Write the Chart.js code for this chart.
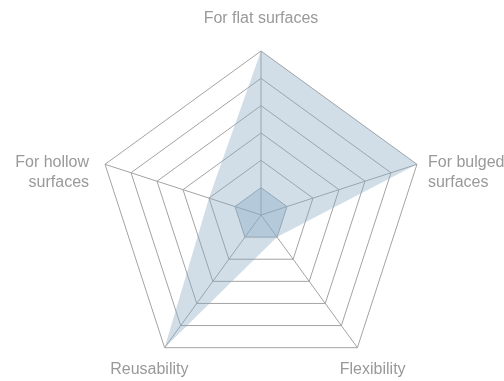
<!DOCTYPE html>
<html>
<head>
<meta charset="utf-8">
<script src="https://cdn.jsdelivr.net/npm/chart.js@4"></script>
<style>
    html, body { margin: 0; padding: 0; background: #fff; }
    #wrap { width: 504px; height: 381px; }
</style>
</head>
<body>
<div id="wrap"><canvas id="radarChart"></canvas></div>
<script>
const categories = [
    'For flat surfaces',
    ['For bulged', 'surfaces'],
    'Flexibility',
    'Reusability',
    ['For hollow', 'surfaces']
];
const outerValues = [6, 6, 1, 6, 2];
const innerValues = [1, 1, 1, 1, 1];
const scaleMin = 0;
const scaleMax = 6;

const FILL = 'rgba(134, 168, 195, 0.38)';
const LABEL_FONT = '16px "Liberation Sans", Arial, sans-serif';

// point labels drawn by hand so each one can sit where the original puts it
const outerLabels = {
    id: 'outerLabels',
    afterDraw(chart) {
        const scale = chart.scales.r;
        const c = chart.ctx;
        const R = scale.drawingArea;
        c.save();
        c.font = LABEL_FONT;
        c.fillStyle = '#999999';
        c.textBaseline = 'middle';
        chart.data.labels.forEach((label, i) => {
            const lines = Array.isArray(label) ? label : [label];
            const p = scale.getPointPosition(i, R);
            const dx = p.x - scale.xCenter;
            const dy = p.y - scale.yCenter;
            let x, y;
            if (dy < -R * 0.9) {
                c.textAlign = 'center';
                x = p.x;
                y = p.y - 32;
            } else if (dy < 0) {
                c.textAlign = dx > 0 ? 'left' : 'right';
                x = p.x + (dx > 0 ? 11 : -16);
                y = p.y - 2;
            } else {
                c.textAlign = 'center';
                x = p.x + (dx / R) * 26;
                y = p.y + 22;
            }
            lines.forEach((t, k) => c.fillText(t, x, y + k * 20));
        });
        c.restore();
    }
};

const ctx = document.getElementById('radarChart').getContext('2d');
new Chart(ctx, {
    type: 'radar',
    data: {
        labels: categories,
        datasets: [{
            data: outerValues,
            backgroundColor: FILL,
            borderWidth: 0,
            pointRadius: 0,
            fill: true
        }, {
            data: innerValues,
            backgroundColor: FILL,
            borderWidth: 0,
            pointRadius: 0,
            fill: true
        }]
    },
    options: {
        responsive: true,
        maintainAspectRatio: false,
        animation: false,
        layout: {
            padding: { top: 51, bottom: 2, left: 97, right: 79 }
        },
        scales: {
            r: {
                min: scaleMin,
                max: scaleMax,
                ticks: { display: false, stepSize: 1 },
                grid: { color: '#a3a3a3', lineWidth: 1 },
                angleLines: { color: '#a3a3a3', lineWidth: 1 },
                pointLabels: { display: false }
            }
        },
        plugins: {
            legend: { display: false },
            tooltip: { enabled: false }
        }
    },
    plugins: [outerLabels]
});
</script>
</body>
</html>
